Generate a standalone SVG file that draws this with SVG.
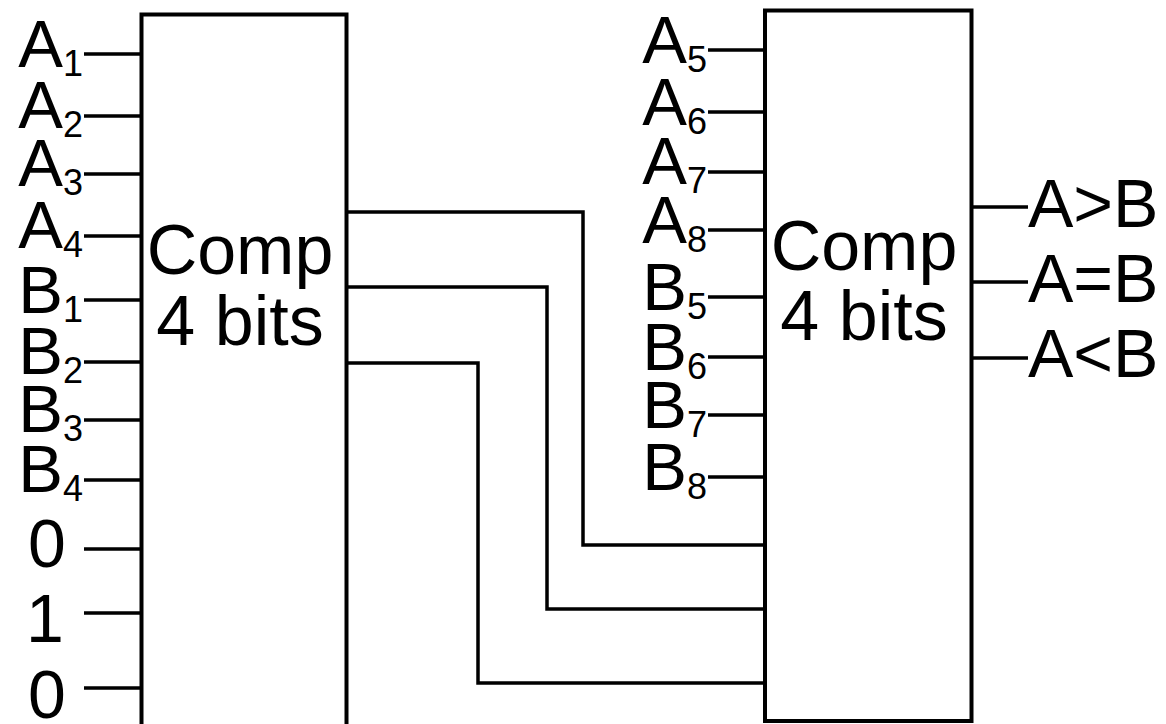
<svg xmlns="http://www.w3.org/2000/svg" width="1166" height="724" viewBox="0 0 1166 724">
<style>
text{font-family:"Liberation Sans",Arial,sans-serif;fill:#000}
.lbl{font-size:67px;text-anchor:end}
.sub{font-size:36px}
.num{font-size:68px;text-anchor:middle}
.out{font-size:68px}
.cmp{font-size:70px;text-anchor:middle}
.box{fill:#fff;stroke:#000;stroke-width:4}
.w{fill:none;stroke:#000;stroke-width:3.5}
</style>
<rect width="1166" height="724" fill="#fff"/>
<g id="comp1">
<rect class="box" x="141.5" y="14.5" width="205" height="730"/>
<text class="cmp" x="240" y="274">Comp</text>
<text class="cmp" x="240" y="345">4 bits</text>
</g>
<g id="comp2">
<rect class="box" x="765" y="10.5" width="206.5" height="710.5"/>
<text class="cmp" x="864" y="270">Comp</text>
<text class="cmp" x="864" y="340">4 bits</text>
</g>
<g id="inputs1">
<text class="lbl" x="83" y="67">A<tspan class="sub" dy="9">1</tspan></text>
<text class="lbl" x="83" y="128">A<tspan class="sub" dy="9">2</tspan></text>
<text class="lbl" x="83" y="186">A<tspan class="sub" dy="9">3</tspan></text>
<text class="lbl" x="83" y="248">A<tspan class="sub" dy="9">4</tspan></text>
<text class="lbl" x="83" y="313">B<tspan class="sub" dy="9">1</tspan></text>
<text class="lbl" x="83" y="374">B<tspan class="sub" dy="9">2</tspan></text>
<text class="lbl" x="83" y="432">B<tspan class="sub" dy="9">3</tspan></text>
<text class="lbl" x="83" y="492">B<tspan class="sub" dy="9">4</tspan></text>
<text class="num" x="47" y="567">0</text>
<text class="num" x="45" y="642">1</text>
<text class="num" x="47" y="718">0</text>
</g>
<g id="inputs2">
<text class="lbl" x="707" y="63">A<tspan class="sub" dy="9">5</tspan></text>
<text class="lbl" x="707" y="125">A<tspan class="sub" dy="9">6</tspan></text>
<text class="lbl" x="707" y="184">A<tspan class="sub" dy="9">7</tspan></text>
<text class="lbl" x="707" y="243">A<tspan class="sub" dy="9">8</tspan></text>
<text class="lbl" x="707" y="310">B<tspan class="sub" dy="9">5</tspan></text>
<text class="lbl" x="707" y="370">B<tspan class="sub" dy="9">6</tspan></text>
<text class="lbl" x="707" y="428">B<tspan class="sub" dy="9">7</tspan></text>
<text class="lbl" x="707" y="490">B<tspan class="sub" dy="9">8</tspan></text>
</g>
<g id="outputs">
<text class="out" x="1028" y="227">A&gt;B</text>
<text class="out" x="1028" y="302">A=B</text>
<text class="out" x="1028" y="377">A&lt;B</text>
</g>
<g id="connectors">
<path class="w" d="M84 54H141.5M84 116H141.5M84 174H141.5M84 236H141.5M84 300H141.5M84 362H141.5M84 420H141.5M84 480H141.5M84 549H141.5M84 613H141.5M84 688H141.5"/>
<path class="w" d="M708 50H765M708 112H765M708 172H765M708 230H765M708 297H765M708 357H765M708 415H765M708 477H765"/>
<path class="w" d="M971.5 207H1028M971.5 282H1028M971.5 358H1028"/>
<path class="w" d="M346.5 212H583V545H765"/>
<path class="w" d="M346.5 287H547V609H765"/>
<path class="w" d="M346.5 363H478V683H765"/>
</g>
</svg>
